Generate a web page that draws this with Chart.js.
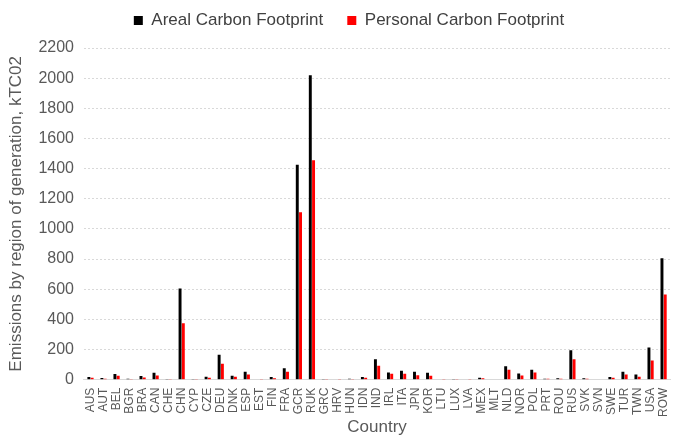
<!DOCTYPE html>
<html>
<head>
<meta charset="utf-8">
<script src="https://cdn.jsdelivr.net/npm/chart.js@4"></script>
<style>
  html, body { margin: 0; padding: 0; background: #fff; }
  #wrap { width: 678px; height: 436px; }
</style>
</head>
<body>
<div id="wrap"><canvas id="chart"></canvas></div>
<script>
const countries = ['AUS','AUT','BEL','BGR','BRA','CAN','CHE','CHN','CYP','CZE','DEU','DNK','ESP','EST','FIN','FRA','GCR','RUK','GRC','HRV','HUN','IDN','IND','IRL','ITA','JPN','KOR','LTU','LUX','LVA','MEX','MLT','NLD','NOR','POL','PRT','ROU','RUS','SVK','SVN','SWE','TUR','TWN','USA','ROW'];
const areal = [17,11,37,6,24,46,4,605,1,20,165,26,52,2,17,76,1425,2020,4,2,6,17,135,48,59,52,46,2,1,2,13,3,89,41,65,6,9,195,9,2,17,52,35,213,805];
const personal = [13,6,26,4,15,28,4,375,1,13,106,20,35,1,9,52,1110,1455,4,1,4,13,93,39,39,30,26,1,0.5,1,9,3,65,28,48,6,6,135,6,2,13,35,20,128,565];

const font = 'Liberation Sans, Arial, sans-serif';

// adjust the space under the legend
const legendGap = {
    id: 'legendGap',
    beforeInit(chart) {
        const fit = chart.legend.fit;
        chart.legend.fit = function() {
            fit.bind(chart.legend)();
            this.height += 9;
        };
    }
};

const ctx = document.getElementById('chart').getContext('2d');
const myChart = new Chart(ctx, {
    type: 'bar',
    data: {
        labels: countries,
        datasets: [
            { label: 'Areal Carbon Footprint', data: areal, backgroundColor: '#000000' },
            { label: 'Personal Carbon Footprint', data: personal, backgroundColor: '#ff0000' }
        ]
    },
    plugins: [legendGap],
    options: {
        responsive: true,
        maintainAspectRatio: false,
        animation: false,
        datasets: { bar: { categoryPercentage: 0.5, barPercentage: 0.9 } },
        layout: { padding: { left: 6, right: -14, top: -12, bottom: 0 } },
        plugins: {
            legend: {
                position: 'top',
                labels: {
                    font: { family: font, size: 17 },
                    color: '#404040',
                    boxWidth: 9,
                    boxHeight: 9,
                    padding: 24
                }
            },
            tooltip: { enabled: false }
        },
        scales: {
            x: {
                grid: { display: false },
                border: { color: '#d9d9d9' },
                ticks: {
                    font: { family: font, size: 12 },
                    color: '#595959',
                    maxRotation: 90,
                    minRotation: 90,
                    autoSkip: false,
                    padding: 0
                },
                title: {
                    display: true,
                    text: 'Country',
                    font: { family: font, size: 17, lineHeight: 1 },
                    color: '#595959',
                    padding: { top: 2, bottom: 0 }
                }
            },
            y: {
                min: 0,
                max: 2200,
                ticks: {
                    stepSize: 200,
                    font: { family: font, size: 16 },
                    color: '#595959',
                    padding: 10,
                    callback: v => String(v)
                },
                grid: { color: '#d9d9d9', drawTicks: false },
                border: { display: false, dash: [2, 2] },
                title: {
                    display: true,
                    text: 'Emissions by region of generation, kTC02',
                    font: { family: font, size: 17 },
                    color: '#595959',
                    padding: { top: 0, bottom: 2 }
                }
            }
        }
    }
});
</script>
</body>
</html>
